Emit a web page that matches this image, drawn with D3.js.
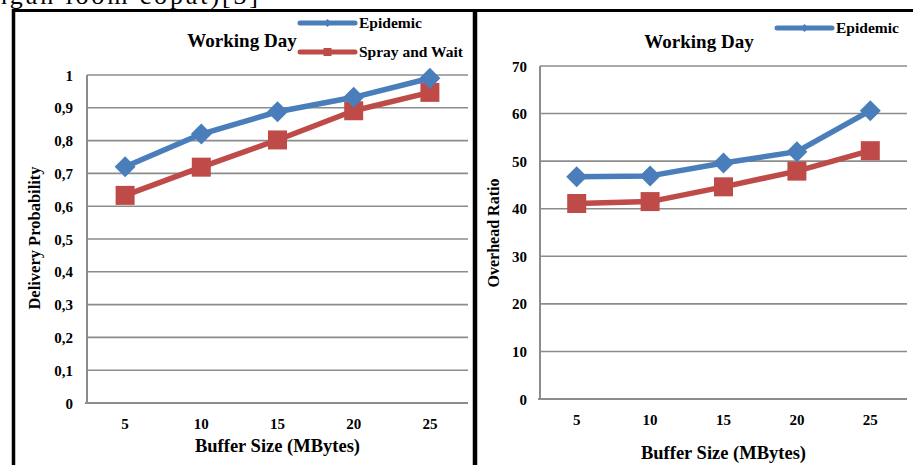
<!DOCTYPE html>
<html>
<head>
<meta charset="utf-8">
<script src="https://cdn.jsdelivr.net/npm/d3@7"></script>
<style>
  html, body { margin: 0; padding: 0; background: #fff; }
  svg { display: block; }
  text { font-family: "Liberation Serif", "Times New Roman", serif; font-weight: bold; fill: #000; }
</style>
</head>
<body>
<svg id="chart" width="913" height="465"></svg>
<script>
// Buffer sizes (MBytes) on the x axis
const bufferSizes = ["5", "10", "15", "20", "25"];

// Delivery probability, Working Day scenario
const deliveryEpidemic = [0.72, 0.82, 0.888, 0.932, 0.99];
const deliverySprayWait = [0.633, 0.719, 0.802, 0.891, 0.947];

// Overhead ratio, Working Day scenario
const overheadEpidemic = [46.7, 46.9, 49.6, 52.0, 60.6];
const overheadSprayWait = [41.1, 41.5, 44.6, 47.9, 52.2];

const deliveryTicks = [0, 0.1, 0.2, 0.3, 0.4, 0.5, 0.6, 0.7, 0.8, 0.9, 1];
const overheadTicks = [0, 10, 20, 30, 40, 50, 60, 70];

const BLUE = "#4a7ebb";
const RED = "#be4b48";
const GRID = "#8c8c8c";

const svg = d3.select("#chart");

// running text of the page, cut by the top of the frame
svg.append("text")
  .attr("x", -6).attr("y", 4)
  .attr("textLength", 264).attr("lengthAdjust", "spacing")
  .style("font-weight", "normal").style("font-size", "26px")
  .text("ngan loom copat)[3]");

function panel(cfg) {
  const g = svg.append("g");
  const x = d3.scaleBand().domain(bufferSizes).range([cfg.left, cfg.right]).padding(0);
  const y = d3.scaleLinear().domain([0, cfg.max]).range([cfg.bottom, cfg.top]);
  const cx = d => x(d) + x.bandwidth() / 2;

  // horizontal grid
  g.append("g").selectAll("line").data(cfg.ticks.filter(t => t > 0)).join("line")
    .attr("x1", cfg.left).attr("x2", cfg.right)
    .attr("y1", d => y(d)).attr("y2", d => y(d))
    .attr("stroke", GRID).attr("stroke-width", 1.6);

  // axes lines
  g.append("line").attr("x1", cfg.left).attr("x2", cfg.left)
    .attr("y1", y(cfg.max)).attr("y2", cfg.bottom)
    .attr("stroke", GRID).attr("stroke-width", 2);
  g.append("line").attr("x1", cfg.left - 2).attr("x2", cfg.right)
    .attr("y1", cfg.bottom).attr("y2", cfg.bottom)
    .attr("stroke", GRID).attr("stroke-width", 2);

  // y tick labels
  const yAxis = d3.axisLeft(y).tickValues(cfg.ticks).tickSize(0).tickPadding(0)
    .tickFormat(cfg.fmt);
  const ya = g.append("g").attr("transform", `translate(${cfg.yLabelX},0)`).call(yAxis);
  ya.select(".domain").remove();
  ya.selectAll("text").attr("font-family", null).attr("font-size", null)
    .style("font-size", "15px").attr("dy", "0.34em");

  // x tick labels
  const xAxis = d3.axisBottom(x).tickSize(0).tickPadding(0);
  const xa = g.append("g").attr("transform", `translate(0,${cfg.xLabelY})`).call(xAxis);
  xa.select(".domain").remove();
  xa.selectAll("text").attr("font-family", null).attr("font-size", null)
    .style("font-size", "15px").attr("dy", null).attr("y", 0);

  // axis titles
  g.append("text").attr("x", (cfg.left + cfg.right) / 2).attr("y", cfg.xTitleY)
    .attr("text-anchor", "middle").style("font-size", "18.5px")
    .text("Buffer Size (MBytes)");
  g.append("text")
    .attr("transform", `translate(${cfg.yTitleX},${cfg.yTitleY}) rotate(-90)`)
    .attr("text-anchor", "middle").style("font-size", cfg.yTitleSize)
    .text(cfg.yTitle);

  // chart title
  g.append("text").attr("x", cfg.titleX).attr("y", cfg.titleY)
    .attr("text-anchor", "middle").style("font-size", "19px")
    .text("Working Day");

  // series
  const line = d3.line().x((d, i) => cx(bufferSizes[i])).y(d => y(d));
  const series = [
    { values: cfg.sprayWait, color: RED, shape: "square" },
    { values: cfg.epidemic, color: BLUE, shape: "diamond" }
  ];
  series.forEach(s => {
    g.append("path").datum(s.values).attr("d", line)
      .attr("fill", "none").attr("stroke", s.color).attr("stroke-width", 5.5)
      .attr("stroke-linejoin", "round");
    g.append("g").selectAll("path").data(s.values).join("path")
      .attr("transform", (d, i) => `translate(${cx(bufferSizes[i])},${y(d)})`)
      .attr("d", s.shape === "square"
        ? d3.symbol(d3.symbolSquare, 19 * 19)()
        : "M0,-10.5L10.5,0L0,10.5L-10.5,0Z")
      .attr("fill", s.color);
  });

  // legend
  cfg.legend.forEach(l => {
    g.append("line").attr("x1", l.x).attr("x2", l.x + 55).attr("y1", l.y).attr("y2", l.y)
      .attr("stroke", l.color).attr("stroke-width", 5).attr("stroke-linecap", "round");
    g.append("path").attr("transform", `translate(${l.x + 27.5},${l.y})`)
      .attr("d", l.shape === "square" ? d3.symbol(d3.symbolSquare, 64)() : "M0,-4L4,0L0,4L-4,0Z")
      .attr("fill", l.color);
    g.append("text").attr("x", l.x + 59).attr("y", l.y + 5).style("font-size", "15.5px")
      .text(l.label);
  });
}

panel({
  left: 87, right: 468, top: 75, bottom: 403, max: 1,
  ticks: deliveryTicks, fmt: d => (d === 0 || d === 1) ? String(d) : String(d).replace(".", ","),
  epidemic: deliveryEpidemic, sprayWait: deliverySprayWait,
  yLabelX: 73, xLabelY: 429, xTitleY: 452,
  yTitle: "Delivery Probability", yTitleX: 40, yTitleY: 238, yTitleSize: "16.5px",
  titleX: 242, titleY: 47,
  legend: [
    { x: 300, y: 23, color: BLUE, shape: "diamond", label: "Epidemic" },
    { x: 300, y: 52, color: RED, shape: "square", label: "Spray and Wait" }
  ]
});

panel({
  left: 540, right: 907, top: 66, bottom: 399, max: 70,
  ticks: overheadTicks, fmt: d => String(d),
  epidemic: overheadEpidemic, sprayWait: overheadSprayWait,
  yLabelX: 527, xLabelY: 425, xTitleY: 459,
  yTitle: "Overhead Ratio", yTitleX: 499, yTitleY: 233, yTitleSize: "16px",
  titleX: 699, titleY: 48,
  legend: [
    { x: 777, y: 28, color: BLUE, shape: "diamond", label: "Epidemic" }
  ]
});

// page frame: top rule, outer left edge, and the divider between the two charts
svg.append("line").attr("x1", 12).attr("x2", 913).attr("y1", 10.5).attr("y2", 10.5)
  .attr("stroke", "#000").attr("stroke-width", 3);
svg.append("line").attr("x1", 13.5).attr("x2", 13.5).attr("y1", 9).attr("y2", 465)
  .attr("stroke", "#000").attr("stroke-width", 3.5);
svg.append("line").attr("x1", 475).attr("x2", 475).attr("y1", 9).attr("y2", 465)
  .attr("stroke", "#000").attr("stroke-width", 4.5);
</script>
</body>
</html>
